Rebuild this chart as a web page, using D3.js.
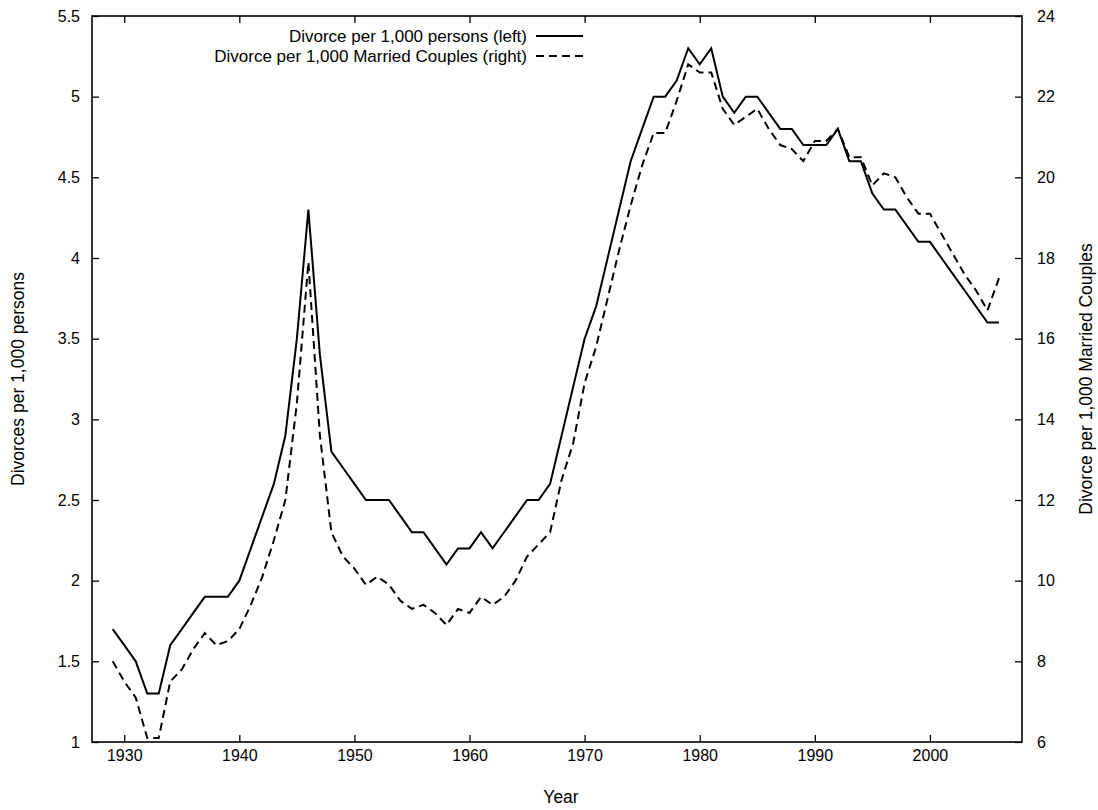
<!DOCTYPE html>
<html>
<head>
<meta charset="utf-8">
<script src="https://cdn.jsdelivr.net/npm/d3@7"></script>
<style>
  html, body { margin: 0; padding: 0; background: #fff; }
  svg text { font-family: "Liberation Sans", Arial, sans-serif; fill: #000; }
</style>
</head>
<body>
<svg id="chart" width="1098" height="810"></svg>
<script>
// ---- data ----
const years = d3.range(1929, 2007);
const perPersons = [
  1.7, 1.6, 1.5, 1.3, 1.3, 1.6, 1.7, 1.8, 1.9, 1.9, 1.9, 2.0, 2.2, 2.4, 2.6, 2.9, 3.5, 4.3, 3.4, 2.8,
  2.7, 2.6, 2.5, 2.5, 2.5, 2.4, 2.3, 2.3, 2.2, 2.1, 2.2, 2.2, 2.3, 2.2, 2.3, 2.4, 2.5, 2.5, 2.6, 2.9,
  3.2, 3.5, 3.7, 4.0, 4.3, 4.6, 4.8, 5.0, 5.0, 5.1, 5.3, 5.2, 5.3, 5.0, 4.9, 5.0, 5.0, 4.9, 4.8, 4.8,
  4.7, 4.7, 4.7, 4.8, 4.6, 4.6, 4.4, 4.3, 4.3, 4.2, 4.1, 4.1, 4.0, 3.9, 3.8, 3.7, 3.6, 3.6
];
const perCouples = [
  8.0, 7.5, 7.1, 6.1, 6.1, 7.5, 7.8, 8.3, 8.7, 8.4, 8.5, 8.8, 9.4, 10.1, 11.0, 12.0, 14.4, 17.9, 13.6, 11.2,
  10.6, 10.3, 9.9, 10.1, 9.9, 9.5, 9.3, 9.4, 9.2, 8.9, 9.3, 9.2, 9.6, 9.4, 9.6, 10.0, 10.6, 10.9, 11.2, 12.5,
  13.4, 14.9, 15.8, 17.0, 18.2, 19.3, 20.3, 21.1, 21.1, 21.9, 22.8, 22.6, 22.6, 21.7, 21.3, 21.5, 21.7, 21.2, 20.8, 20.7,
  20.4, 20.9, 20.9, 21.2, 20.5, 20.5, 19.8, 20.1, 20.0, 19.5, 19.1, 19.1, 18.6, 18.1, 17.6, 17.2, 16.7, 17.5
];
const xTicks = [1930, 1940, 1950, 1960, 1970, 1980, 1990, 2000];
const yLeftTicks = [1, 1.5, 2, 2.5, 3, 3.5, 4, 4.5, 5, 5.5];
const yRightTicks = [6, 8, 10, 12, 14, 16, 18, 20, 22, 24];
const legendLabels = ["Divorce per 1,000 persons (left)", "Divorce per 1,000 Married Couples (right)"];

// ---- layout ----
const L = 92, R = 1022, T = 16, B = 742;
const FS = 16, FS_LEG = 17, FS_TITLE = 17.5;
const svg = d3.select("#chart");

const x = d3.scaleLinear().domain([1927.2, 2008]).range([L, R]);
const yL = d3.scaleLinear().domain([1, 5.5]).range([B, T]);
const yR = d3.scaleLinear().domain([6, 24]).range([B, T]);

function styleAxis(g) {
  g.select(".domain").remove();
  g.selectAll(".tick line").attr("stroke", "#000").attr("stroke-width", 1.3);
  g.selectAll(".tick text").attr("font-size", FS).attr("font-family", "Liberation Sans, Arial, sans-serif").attr("fill", "#000");
}

// bottom axis
svg.append("g").attr("transform", `translate(0,${B})`)
  .call(d3.axisBottom(x).tickValues(xTicks).tickFormat(d3.format("d")).tickSize(-7).tickPadding(8))
  .call(styleAxis);
// top mirror ticks
svg.append("g").attr("transform", `translate(0,${T})`)
  .call(d3.axisTop(x).tickValues(xTicks).tickFormat("").tickSize(-7))
  .call(styleAxis);
// left axis
svg.append("g").attr("transform", `translate(${L},0)`)
  .call(d3.axisLeft(yL).tickValues(yLeftTicks).tickFormat(d => String(d)).tickSize(-7).tickPadding(12))
  .call(styleAxis);
// right axis
svg.append("g").attr("transform", `translate(${R},0)`)
  .call(d3.axisRight(yR).tickValues(yRightTicks).tickFormat(d => String(d)).tickSize(-7).tickPadding(15))
  .call(styleAxis);

// frame
svg.append("rect").attr("x", L).attr("y", T).attr("width", R - L).attr("height", B - T)
  .attr("fill", "none").attr("stroke", "#000").attr("stroke-width", 1.6);

// lines
const lineL = d3.line().x((d, i) => x(years[i])).y(d => yL(d));
const lineR = d3.line().x((d, i) => x(years[i])).y(d => yR(d));

svg.append("path").datum(perPersons).attr("d", lineL)
  .attr("fill", "none").attr("stroke", "#000").attr("stroke-width", 2).attr("stroke-linejoin", "miter");
svg.append("path").datum(perCouples).attr("d", lineR)
  .attr("fill", "none").attr("stroke", "#000").attr("stroke-width", 2).attr("stroke-dasharray", "8,5");

// legend
const legX = 527, legY = [36, 56];
legendLabels.forEach((lab, i) => {
  svg.append("text").attr("x", legX).attr("y", legY[i]).attr("dy", "0.35em")
    .attr("text-anchor", "end").attr("font-size", FS_LEG).text(lab);
  svg.append("line").attr("x1", legX + 9).attr("x2", legX + 56).attr("y1", legY[i]).attr("y2", legY[i])
    .attr("stroke", "#000").attr("stroke-width", 2)
    .attr("stroke-dasharray", i === 1 ? "8,5" : null);
});

// axis titles
svg.append("text").attr("x", (L + R) / 2 + 4).attr("y", 797).attr("dy", "0.35em")
  .attr("text-anchor", "middle").attr("font-size", FS_TITLE).text("Year");
svg.append("text").attr("transform", `translate(18,${(T + B) / 2}) rotate(-90)`).attr("dy", "0.35em")
  .attr("text-anchor", "middle").attr("font-size", FS_TITLE).text("Divorces per 1,000 persons");
svg.append("text").attr("transform", `translate(1086,${(T + B) / 2}) rotate(-90)`).attr("dy", "0.35em")
  .attr("text-anchor", "middle").attr("font-size", FS_TITLE).text("Divorce per 1,000 Married Couples");
</script>
</body>
</html>
